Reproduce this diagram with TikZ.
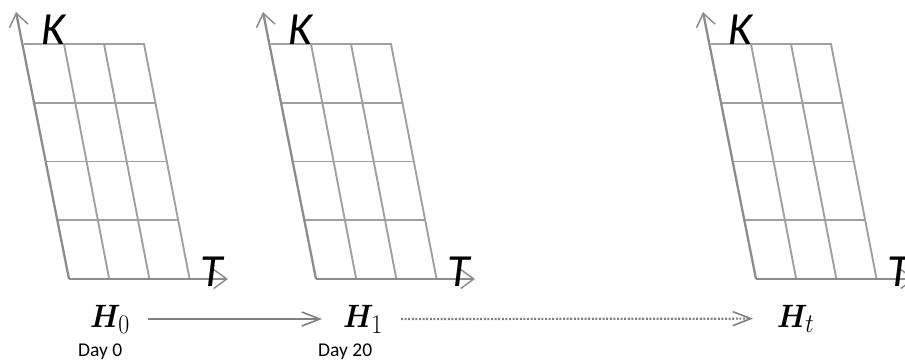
\documentclass[tikz,border=0pt]{standalone}
\usepackage{graphicx}
\usepackage{fontspec}
\usepackage{bm}
\newfontfamily\calfont{Carlito}
\usetikzlibrary{arrows.meta}
\definecolor{gridgray}{HTML}{A0A0A0}
\definecolor{axisgray}{HTML}{8C8C8C}
\definecolor{arrgray}{HTML}{808080}
\newcommand{\bigH}[1]{\scalebox{1.15}[1.3]{$#1$}}
\begin{document}
\begin{tikzpicture}[x=1pt,y=-1pt,
  gridline/.style={draw=gridgray,line width=1.9pt},
  axisline/.style={draw=axisgray,line width=2.3pt,-{Straight Barb[length=13pt,width=19pt,line width=1.5pt]}},
  axlab/.style={font=\calfont\itshape\fontsize{46}{50}\selectfont,inner sep=0pt,anchor=base west},
  hlab/.style={font=\fontsize{24.88}{30}\selectfont,inner sep=0pt,anchor=base west},
  daylab/.style={font=\calfont\fontsize{19.5}{22}\selectfont,inner sep=0pt,anchor=base west},
  harrow/.style={draw=arrgray,line width=2.2pt,-{Straight Barb[length=18pt,width=14pt,line width=1.6pt]}},
  darrow/.style={draw=arrgray,line width=2.2pt,dash pattern=on 2pt off 1.6pt,-{Straight Barb[length=18pt,width=14pt,line width=1.6pt,sep=0pt]}}]
\clip (0,0) rectangle (905,361);
\foreach \o in {0,247,687}{
  \begin{scope}[xshift=\o pt]
    \foreach \j in {1,...,4}
      \draw[gridline] (69-11.25*\j,279-58.75*\j) -- ++(120.5,0);
    \foreach \i in {1,...,3}
      \draw[gridline] (69+40.2*\i,279) -- (24+40*\i,44);
    \draw[axisline] (69,279) -- (16,12);
    \draw[axisline] (69,279) -- (228,279);
    \node[axlab] (K\o) at (41,45) {K};
    \node[axlab] (T\o) at (200,286) {T};
  \end{scope}
}
\node[hlab] (h0) at (90,327) {\bigH{\bm{H}_0}};
\node[hlab] (h1) at (343,327) {\bigH{\bm{H}_1}};
\node[hlab] (ht) at (777,327) {\bigH{\bm{H}_t}};
\node[daylab] (d0) at (78,356) {Day 0};
\node[daylab] (d20) at (318,356) {Day 20};
\draw[harrow] ([xshift=18pt]h0.east) -- ([xshift=-21pt]h1.west);
\draw[darrow] ([xshift=18pt]h1.east) -- ([xshift=-24pt]ht.west);
\end{tikzpicture}
\end{document}
